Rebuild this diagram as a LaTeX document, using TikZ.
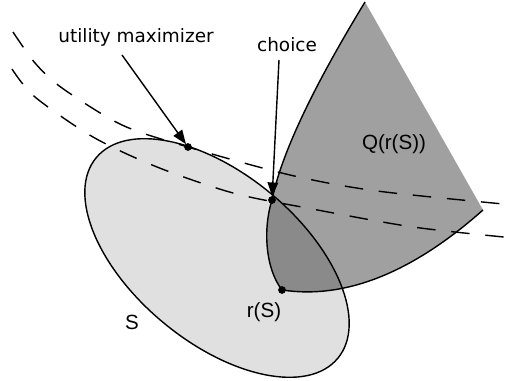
\documentclass[tikz,border=0pt]{standalone}
\usepackage{fontspec}
\setmainfont{DejaVu Sans}
\newfontfamily\arialfont{Liberation Sans}
\usepackage{tikz}
\usetikzlibrary{arrows.meta}

\begin{document}
\begin{tikzpicture}[x=0.02cm,y=-0.02cm,line width=0.8pt]
	% --- Parámetros: coordenadas en píxeles (origen arriba a la izquierda) ---
	\useasboundingbox (0,0) rectangle (514,381);
	\definecolor{sgray}{RGB}{224,224,224}
	\definecolor{qgray}{RGB}{160,160,160}
	\definecolor{both}{RGB}{138,138,138}
	\tikzset{
		setS/.style={rotate around={-39.7:(217,258)}},
		indiff/.style={dash pattern=on 10.5pt off 9pt},
		pointer/.style={-{Triangle[length=8pt,width=6pt]}, line width=0.8pt, shorten >=2pt},
		callout/.style={font=\fontsize{10.5}{12}\selectfont, inner sep=1pt},
		setlbl/.style={font=\arialfont\fontsize{11.7}{13}\selectfont, inner sep=1pt}}

	% Puntos
	\coordinate (umax) at (188,147);
	\coordinate (choice) at (272,200);
	\coordinate (rs) at (282,290);
	\coordinate (qtop) at (365,2);
	\coordinate (qcorner) at (483,210);

	% --- Conjunto S ---
	\fill[sgray,setS] (217,258) ellipse [x radius=157, y radius=84];

	% --- Q(r(S)) ---
	\def\qpath{(choice) .. controls (281,155) and (312,89) .. (qtop) -- (qcorner)
		.. controls (412,273) and (345,299.5) .. (rs)
		.. controls (265,268) and (263,228) .. (choice) -- cycle}
	\fill[qgray] \qpath;
	\begin{scope}
		\clip[setS] (217,258) ellipse [x radius=157, y radius=84];
		\fill[both] \qpath;
	\end{scope}

	% Bordes
	\draw[setS] (217,258) ellipse [x radius=157, y radius=84];
	\draw (qtop) .. controls (312,89) and (281,155) .. (choice)
		.. controls (263,228) and (265,268) .. (rs)
		.. controls (345,299.5) and (412,273) .. (qcorner);

	% --- Curvas de indiferencia ---
	\draw[indiff] plot[smooth] coordinates {(13,32) (35,63) (62,88) (122,125) (188,147) (290,175) (377,191) (514,205)};
	\draw[indiff] plot[smooth] coordinates {(12,69) (35,97) (93,137) (157,167) (233,193) (307,208) (413,227) (514,238)};

	% --- Puntos marcados ---
	\foreach \p in {umax,choice,rs} \fill (\p) circle [radius=2.2pt];

	% --- Etiquetas ---
	\node[callout] (um) at (136,37) {utility maximizer};
	\node[callout] (ch) at (287,45) {choice};
	\node[setlbl] (qlbl) at (394,144) {Q(r(S))};
	\node[setlbl] (slbl) at (132,322) {S};
	\node[setlbl] (rslbl) at (264,312) {r(S)};
	\coordinate (umtail) at (122,55);
	\coordinate (chtail) at (279,60);
	\draw[pointer] (umtail) -- (umax);
	\draw[pointer] (chtail) -- (choice);
\end{tikzpicture}
\end{document}
